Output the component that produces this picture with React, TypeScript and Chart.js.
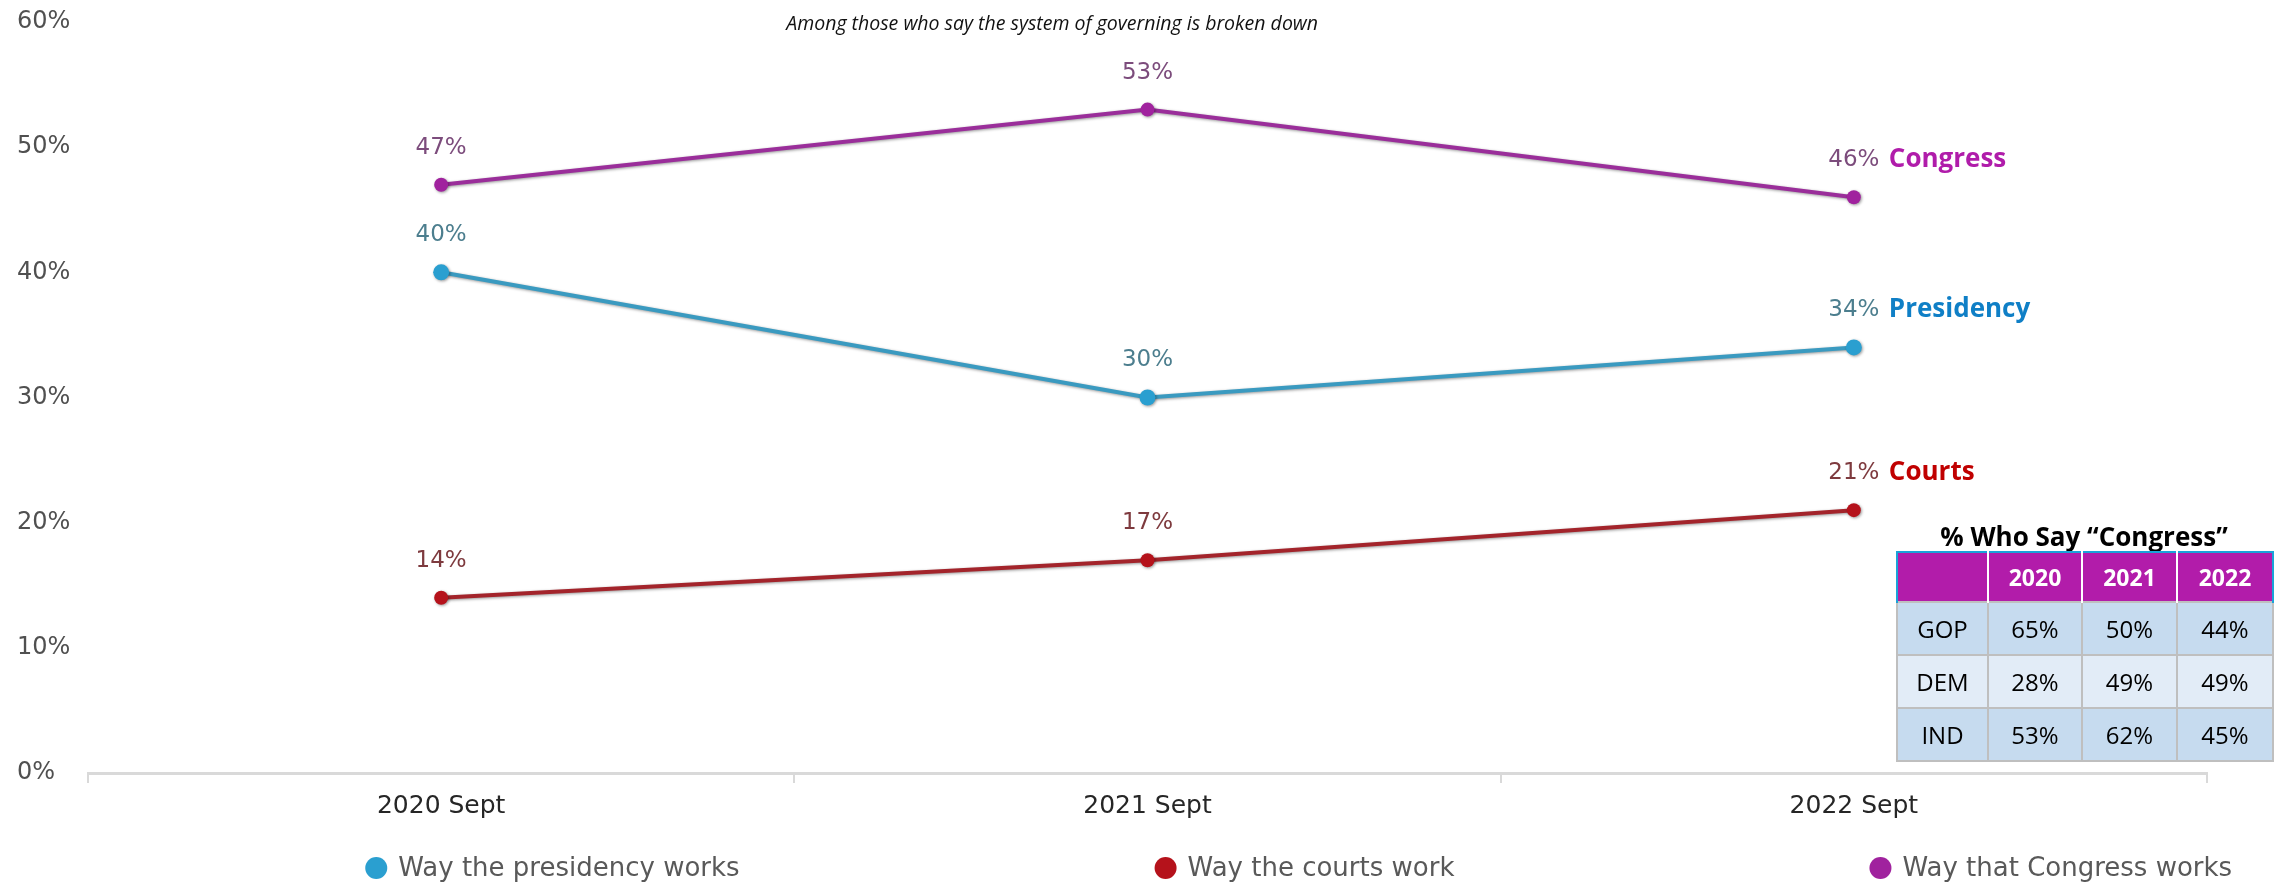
import React, { useEffect, useRef } from 'react';
import { Chart, registerables } from 'chart.js';

Chart.register(...registerables);

// ---------- data ----------
const categories = ['2020 Sept', '2021 Sept', '2022 Sept'];
const presidency = [40, 30, 34];
const courts = [14, 17, 21];
const congress = [47, 53, 46];
const seriesNames = ['Way the presidency works', 'Way the courts work', 'Way that Congress works'];
const shortNames = ['Presidency', 'Courts', 'Congress'];
const yTicks = [0, 10, 20, 30, 40, 50, 60];
const subtitle = 'Among those who say the system of governing is broken down';

const tableTitle = '% Who Say \u201CCongress\u201D';
const tableYears = ['2020', '2021', '2022'];
const tableParties = ['GOP', 'DEM', 'IND'];
const gopValues = [65, 50, 44];
const demValues = [28, 49, 49];
const indValues = [53, 62, 45];

// ---------- styles ----------
const lineColors = ['#3A9AC0', '#A3242B', '#9A2E9A'];
const pointColors = ['#2A9FD0', '#B5121B', '#A0229E'];
const labelColors = ['#4C7E8E', '#7E3A3E', '#7C4C7C'];
const nameColors = ['#0F7FC6', '#C00000', '#B01CAA'];
const AX_FONT = "'DejaVu Sans', sans-serif";
const OS_FONT = "'Open Sans', sans-serif";

const overlayPlugin = {
  id: 'overlay',
  beforeDatasetsDraw(chart: any) {
    const ctx = chart.ctx;
    ctx.save();
    ctx.shadowColor = 'rgba(0,0,0,0.4)';
    ctx.shadowBlur = 3;
    ctx.shadowOffsetX = 1;
    ctx.shadowOffsetY = 1;
  },
  afterDatasetsDraw(chart: any) {
    const ctx = chart.ctx;
    ctx.restore();
    ctx.save();
    chart.data.datasets.forEach((ds: any, i: number) => {
      const meta = chart.getDatasetMeta(i);
      meta.data.forEach((pt: any, j: number) => {
        ctx.font = `400 23px ${AX_FONT}`;
        ctx.fillStyle = labelColors[i];
        ctx.textAlign = 'center';
        ctx.textBaseline = 'middle';
        ctx.fillText(`${ds.data[j]}%`, pt.x, pt.y - 37);
        if (j === meta.data.length - 1) {
          ctx.font = `700 26px ${OS_FONT}`;
          ctx.fillStyle = nameColors[i];
          ctx.textAlign = 'left';
          ctx.fillText(shortNames[i], pt.x + 35, pt.y - 38);
        }
      });
    });
    ctx.restore();
  },
  afterDraw(chart: any) {
    const ctx = chart.ctx;
    const area = chart.chartArea;
    ctx.save();
    // subtitle
    ctx.font = `italic 400 19.5px ${OS_FONT}`;
    ctx.fillStyle = '#111111';
    ctx.textAlign = 'center';
    ctx.textBaseline = 'middle';
    ctx.fillText(subtitle, area.left + area.width * 0.455, 24);
    // legend
    ctx.font = `400 26px ${AX_FONT}`;
    const items = chart.data.datasets.map((ds: any, i: number) => ({
      text: ds.label,
      color: pointColors[i],
      w: ctx.measureText(ds.label).width,
    }));
    const gap = 415;
    const total = items.reduce((a: number, it: any) => a + 33 + it.w, 0) + gap * (items.length - 1);
    let x = chart.width * 0.5706 - total / 2;
    const y = chart.height - 17;
    items.forEach((it: any) => {
      ctx.beginPath();
      ctx.fillStyle = it.color;
      ctx.arc(x + 11, y, 11, 0, Math.PI * 2);
      ctx.fill();
      ctx.fillStyle = '#595959';
      ctx.textAlign = 'left';
      ctx.textBaseline = 'middle';
      ctx.fillText(it.text, x + 33, y + 1);
      x += 33 + it.w + gap;
    });
    ctx.restore();
  },
};

function CongressTable() {
  const rows = [gopValues, demValues, indValues];
  const colW = [91, 94, 95, 96];
  const bodyCell = (bg: string): React.CSSProperties => ({
    background: bg,
    border: '2px solid #BFBFBF',
    textAlign: 'center',
    verticalAlign: 'middle',
    padding: 0,
    fontFamily: OS_FONT,
    fontSize: 24,
    color: '#000',
  });
  const headCell: React.CSSProperties = {
    background: '#B21CAA',
    color: '#fff',
    fontFamily: OS_FONT,
    fontWeight: 700,
    fontSize: 23,
    textAlign: 'center',
    verticalAlign: 'middle',
    padding: 0,
    borderTop: '2px solid #1AA3D9',
    borderLeft: '2px solid #fff',
    borderRight: '2px solid #fff',
  };
  return (
    <>
      <div
        style={{
          position: 'absolute',
          left: 1896,
          width: 376,
          top: 520,
          textAlign: 'center',
          fontFamily: OS_FONT,
          fontWeight: 700,
          fontSize: 26,
          lineHeight: '32px',
          color: '#000',
          whiteSpace: 'nowrap',
        }}
      >
        {tableTitle}
      </div>
      <table
        style={{
          position: 'absolute',
          left: 1896,
          top: 551,
          width: 376,
          borderCollapse: 'collapse',
          tableLayout: 'fixed',
        }}
      >
        <colgroup>
          {colW.map((w, i) => (
            <col key={i} style={{ width: w }} />
          ))}
        </colgroup>
        <tbody>
          <tr style={{ height: 50 }}>
            <td style={{ ...headCell, borderLeft: '2px solid #1AA3D9' }}></td>
            {tableYears.map((yr, i) => (
              <td
                key={yr}
                style={i === tableYears.length - 1 ? { ...headCell, borderRight: '2px solid #1AA3D9' } : headCell}
              >
                {yr}
              </td>
            ))}
          </tr>
          {rows.map((vals, r) => {
            const bg = r === 1 ? '#E2ECF7' : '#C6DBEF';
            return (
              <tr key={r} style={{ height: 53 }}>
                <td style={bodyCell(bg)}>{tableParties[r]}</td>
                {vals.map((v, c) => (
                  <td key={c} style={bodyCell(bg)}>
                    {v}%
                  </td>
                ))}
              </tr>
            );
          })}
        </tbody>
      </table>
    </>
  );
}

export default function App() {
  const canvasRef = useRef<HTMLCanvasElement | null>(null);

  useEffect(() => {
    if (!canvasRef.current) return;
    const seriesData = [presidency, courts, congress];
    const chart = new Chart(canvasRef.current, {
      type: 'line',
      data: {
        labels: categories,
        datasets: seriesData.map((d, i) => ({
          label: seriesNames[i],
          data: d,
          borderColor: lineColors[i],
          backgroundColor: pointColors[i],
          pointBackgroundColor: pointColors[i],
          pointBorderColor: pointColors[i],
          pointRadius: i === 0 ? 8 : 7,
          pointBorderWidth: 0,
          borderWidth: 4,
          tension: 0,
          fill: false,
        })),
      },
      plugins: [overlayPlugin],
      options: {
        animation: false,
        responsive: true,
        maintainAspectRatio: false,
        layout: { padding: { left: 17, right: 69, top: 22, bottom: 62 } },
        plugins: {
          legend: { display: false },
          tooltip: { enabled: false },
          title: { display: false },
        },
        scales: {
          x: {
            type: 'category',
            offset: true,
            grid: {
              display: true,
              drawOnChartArea: false,
              drawTicks: true,
              tickLength: 10,
              offset: true,
              color: '#D9D9D9',
              lineWidth: 2,
            },
            border: { display: true, color: '#D9D9D9', width: 3 },
            ticks: {
              color: '#262626',
              font: { family: AX_FONT, size: 25 },
              padding: 8,
              maxRotation: 0,
              autoSkip: false,
            },
            afterFit: (s: any) => {
              s.height = 50;
            },
          },
          y: {
            min: 0,
            max: 60,
            afterBuildTicks: (s: any) => {
              s.ticks = yTicks.map((v) => ({ value: v }));
            },
            ticks: {
              callback: (v: any) => `${v}%`,
              color: '#505050',
              font: { family: AX_FONT, size: 24 },
              crossAlign: 'far',
              padding: 0,
            },
            grid: { display: false, drawTicks: false },
            border: { display: false },
            afterFit: (s: any) => {
              s.width = 71;
            },
          },
        },
      },
    });
    return () => chart.destroy();
  }, []);

  return (
    <div style={{ position: 'absolute', left: 0, top: 0, width: 2276, height: 885, background: '#fff', overflow: 'hidden' }}>
      <div style={{ position: 'absolute', left: 0, top: 0, width: 2276, height: 885 }}>
        <canvas ref={canvasRef} />
      </div>
      <CongressTable />
    </div>
  );
}
